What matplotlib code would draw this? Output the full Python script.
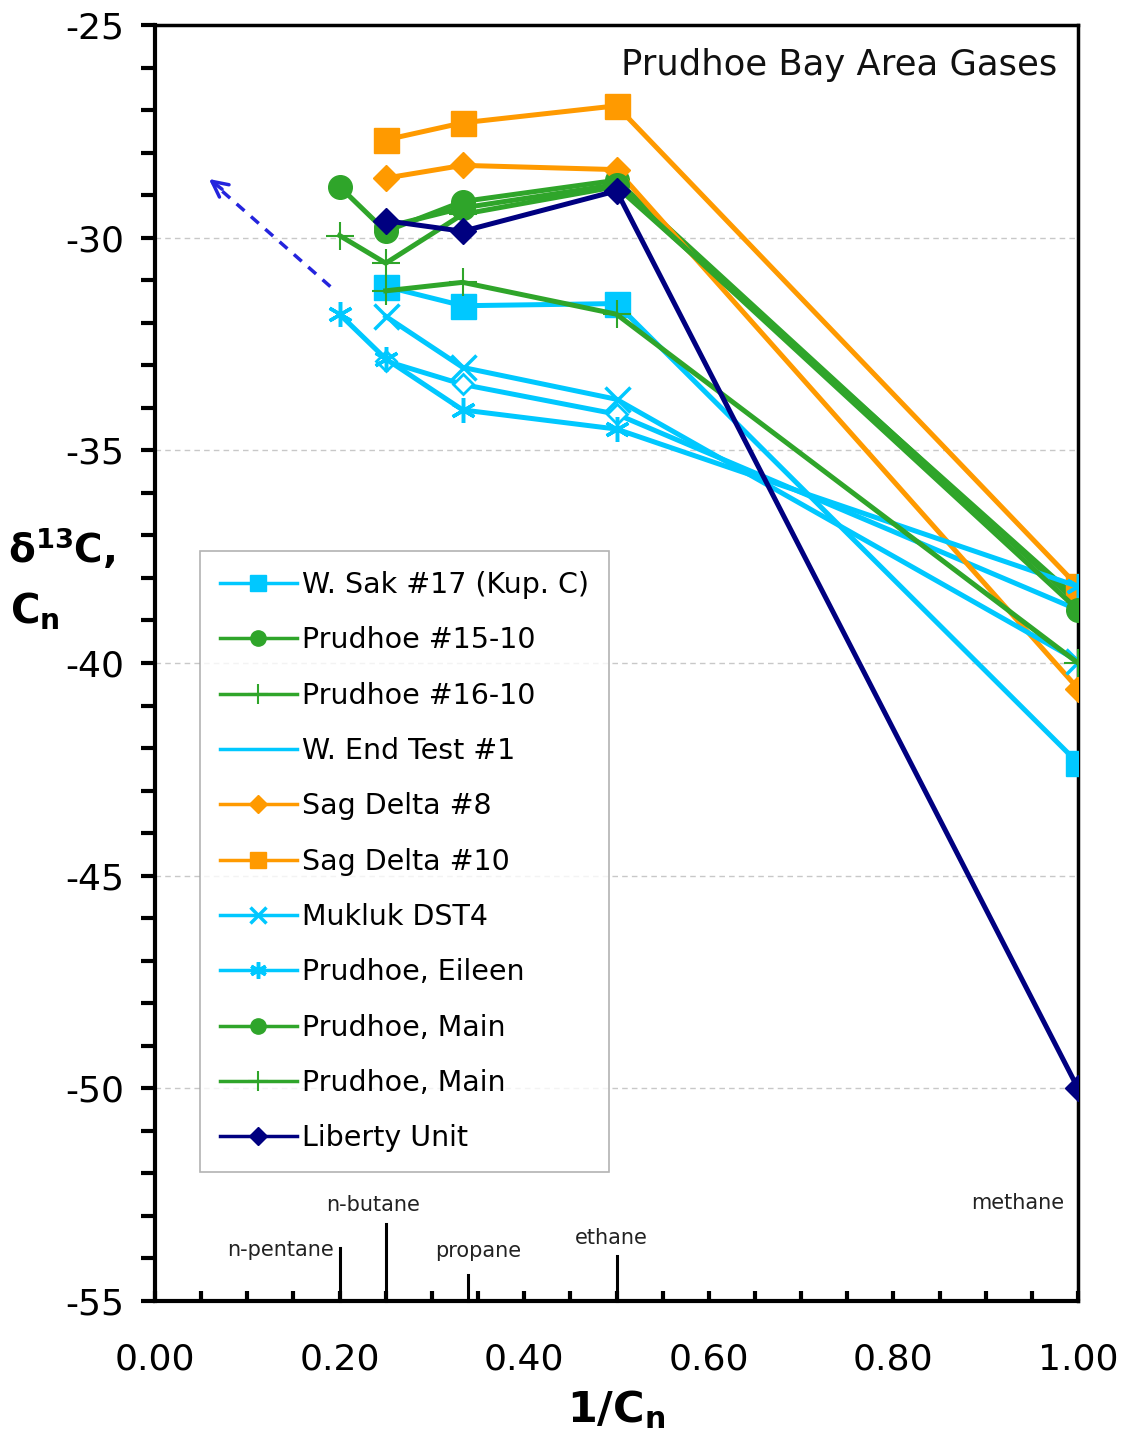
import matplotlib
matplotlib.use("Agg")
import matplotlib.pyplot as plt
from matplotlib.lines import Line2D
from matplotlib.ticker import MultipleLocator, FormatStrFormatter

plt.rcParams['font.family'] = ['DejaVu Sans']
plt.rcParams['axes.unicode_minus'] = False

# ---------------- data ----------------
series_names = ["W. Sak #17 (Kup. C)", "Prudhoe #15-10", "Prudhoe #16-10", "W. End Test #1",
                "Sag Delta #8", "Sag Delta #10", "Mukluk DST4", "Prudhoe, Eileen",
                "Prudhoe, Main", "Prudhoe, Main", "Liberty Unit"]

wsak_x = [0.25, 1/3, 0.5, 1.0]
wsak_y = [-31.15, -31.6, -31.55, -42.35]

p1510_x = [0.2, 0.25, 1/3, 0.5, 1.0]
p1510_y = [-28.8, -29.85, -29.15, -28.65, -38.6]

p1610_x = [0.2, 0.25, 1/3, 0.5, 1.0]
p1610_y = [-29.95, -30.6, -29.45, -28.8, -38.5]

wend_x = [0.25, 1/3, 0.5, 1.0]
wend_y = [-32.9, -33.45, -34.15, -38.75]

sag8_x = [0.25, 1/3, 0.5, 1.0]
sag8_y = [-28.6, -28.3, -28.4, -40.6]

sag10_x = [0.25, 1/3, 0.5, 1.0]
sag10_y = [-27.7, -27.3, -26.9, -38.2]

mukluk_x = [0.25, 1/3, 0.5, 1.0]
mukluk_y = [-31.85, -33.05, -33.8, -39.95]

eileen_x = [0.2, 0.25, 1/3, 0.5, 1.0]
eileen_y = [-31.8, -32.85, -34.05, -34.5, -38.2]

mainc_x = [0.25, 1/3, 0.5, 1.0]
mainc_y = [-29.75, -29.3, -28.75, -38.75]

mainp_x = [0.25, 1/3, 0.5, 1.0]
mainp_y = [-31.25, -31.05, -31.8, -40.0]

liberty_x = [0.25, 1/3, 0.5, 1.0]
liberty_y = [-29.6, -29.85, -28.9, -50.0]

compound_names = ["n-pentane", "n-butane", "propane", "ethane", "methane"]
compound_x = [0.2, 0.25, 0.339, 0.5, 1.0]
compound_top = [-53.75, -53.2, -54.4, -53.95, -25.0]

xticks = [0.0, 0.2, 0.4, 0.6, 0.8, 1.0]
yticks = [-55, -50, -45, -40, -35, -30, -25]

# ---------------- styles ----------------
CYAN = '#00C8FF'
GREEN = '#2FA52A'
ORANGE = '#FF9A00'
NAVY = '#000080'

styles = [
    dict(color=CYAN, marker='s', ms=18, mew=1),
    dict(color=GREEN, marker='o', ms=17, mew=1),
    dict(color=GREEN, marker='+', ms=20, mew=1.5),
    dict(color=CYAN, marker='D', ms=10, mew=2, mfc='white'),
    dict(color=ORANGE, marker='D', ms=13, mew=1),
    dict(color=ORANGE, marker='s', ms=18, mew=1),
    dict(color=CYAN, marker='x', ms=18, mew=2.5),
    dict(color=CYAN, marker=(6, 2, 0), ms=18, mew=2.5),
    dict(color=GREEN, marker='o', ms=17, mew=1),
    dict(color=GREEN, marker='+', ms=20, mew=1.5),
    dict(color=NAVY, marker='D', ms=13, mew=1),
]
legend_styles = [
    dict(marker='s', ms=11), dict(marker='o', ms=11), dict(marker='+', ms=15),
    dict(marker='None', ms=0), dict(marker='D', ms=9), dict(marker='s', ms=11),
    dict(marker='x', ms=12), dict(marker=(6, 2, 0), ms=12), dict(marker='o', ms=11),
    dict(marker='+', ms=15), dict(marker='D', ms=9),
]

xs = [wsak_x, p1510_x, p1610_x, wend_x, sag8_x, sag10_x, mukluk_x, eileen_x, mainc_x, mainp_x, liberty_x]
ys = [wsak_y, p1510_y, p1610_y, wend_y, sag8_y, sag10_y, mukluk_y, eileen_y, mainc_y, mainp_y, liberty_y]

W, H = 1126, 1433
fig = plt.figure(figsize=(W / 100, H / 100), dpi=100)
ax = fig.add_axes([155 / W, 1 - 1301 / H, 923 / W, 1276 / H])

ax.set_xlim(0, 1.0)
ax.set_ylim(-55, -25)

# grid
for yv in yticks[1:-1]:
    ax.axhline(yv, color='#c8c8c8', lw=1, ls=(0, (4, 3)), zorder=0)

# series
for x, y, name, st in zip(xs, ys, series_names, styles):
    kw = dict(st)
    c = kw.pop('color')
    mfc = kw.pop('mfc', c)
    ax.plot(x, y, color=c, lw=3.6, mfc=mfc, mec=c, label=name, zorder=3,
            solid_joinstyle='miter', **kw)

# compound marker lines and labels
for cx, ct in zip(compound_x[:-1], compound_top[:-1]):
    ax.plot([cx, cx], [-55, ct], color='black', lw=2.2, zorder=2, clip_on=False)
label_pos = [(0.194, -53.80, 'right'), (0.236, -52.75, 'center'), (0.35, -53.83, 'center'),
             (0.494, -53.52, 'center'), (0.935, -52.70, 'center')]
for name, (lx, ly, ha) in zip(compound_names, label_pos):
    ax.text(lx, ly, name, fontsize=15, ha=ha, va='center', color='#222222')

# dashed arrow
ax.plot([0.19, 0.062], [-31.15, -28.7], color='#2424DD', lw=2.5, ls=(0, (3, 2.5)), zorder=2)
ax.annotate('', xy=(0.056, -28.58), xytext=(0.075, -28.9),
            arrowprops=dict(arrowstyle='->', color='#2424DD', lw=2.5, mutation_scale=28))

# title
ax.text(0.977, 0.9687, 'Prudhoe Bay Area Gases', transform=ax.transAxes,
        fontsize=25.5, ha='right', va='center', color='#111111')

# ticks
ax.set_xticks(xticks)
ax.xaxis.set_minor_locator(MultipleLocator(0.05))
ax.xaxis.set_major_formatter(FormatStrFormatter('%.2f'))
ax.set_yticks(yticks)
ax.yaxis.set_minor_locator(MultipleLocator(1))
ax.tick_params(axis='x', which='both', direction='in', length=7, width=3, labelsize=26, pad=30)
ax.tick_params(axis='y', which='both', direction='out', length=10, width=3, labelsize=26, pad=12)
for sp in ax.spines.values():
    sp.set_linewidth(3)
    sp.set_color('black')
ax.spines['right'].set_linewidth(2.5)
ax.spines['top'].set_linewidth(2.5)

# axis labels
ax.set_xlabel(r'$\mathbf{1/C_n}$', fontsize=31, labelpad=8)
fig.text(8 / W, 1 - 548 / H, r'δ$^{\mathbf{13}}$C,', fontsize=28, fontweight='bold', ha='left', va='center')
fig.text(10 / W, 1 - 612 / H, r'$\mathbf{C_n}$', fontsize=29, ha='left', va='center')

# legend with proxy handles
handles = []
for st, lst in zip(styles, legend_styles):
    c = st['color']
    mfc = st.get('mfc', c)
    handles.append(Line2D([], [], color=c, lw=2.5, marker=lst['marker'], ms=lst['ms'],
                          mfc=mfc, mec=c, mew=st['mew']))
leg = ax.legend(handles, series_names, loc='upper left', bbox_to_anchor=(0.0488, 0.5878),
                fontsize=20.5, frameon=True, fancybox=False, edgecolor='#a0a0a0',
                handlelength=2.7, handletextpad=0.18, labelspacing=0.96, borderpad=0.7,
                borderaxespad=0.0)
leg.get_frame().set_linewidth(1.2)
leg.set_zorder(5)

fig.savefig('out.png', dpi=100)
